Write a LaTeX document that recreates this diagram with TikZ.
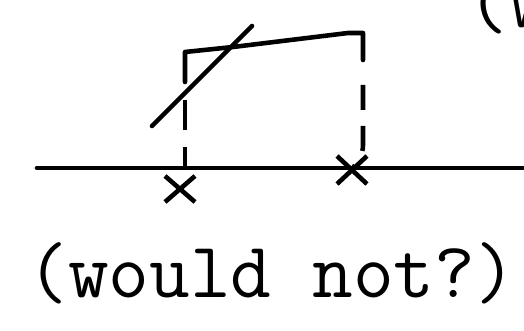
\documentclass[tikz,border=0pt]{standalone}
\usepackage{fontspec}
\usetikzlibrary{positioning,calc}

\begin{document}
\begin{tikzpicture}[x=0.02cm,y=-0.02cm,
    ln/.style={line width=2.6pt,line cap=round,line join=round},
    dsh/.style={line width=2.6pt,dash pattern=on 0.6cm off 0.34cm},
    xm/.style={line width=2.6pt},
    lbl/.style={font=\fontsize{45}{48}\selectfont\ttfamily,inner sep=0pt}
  ]
  \useasboundingbox (0,0) rectangle (524,331);
  % axis and the two marks
  \coordinate (ax0) at (37,168);
  \coordinate (ax1) at (530,168);
  \coordinate (p) at (180,189);
  \coordinate (q) at (352,170);
  \draw[ln] (ax0) -- (ax1);
  \draw[xm] ($(p)+(-15,-13)$) -- ($(p)+(15,13)$) ($(p)+(15,-13)$) -- ($(p)+(-15,13)$);
  \draw[xm] ($(q)+(-15,-14)$) -- ($(q)+(15,14)$) ($(q)+(15,-14)$) -- ($(q)+(-15,14)$);
  % the bent top and its sides
  \coordinate (a) at (185,82);
  \coordinate (b) at (185,52);
  \coordinate (c) at (233,47);
  \coordinate (d) at (348,33);
  \coordinate (e) at (363,33);
  \coordinate (f) at (363,60);
  \draw[ln] (a) -- (b) -- (c) -- (d) -- (e) -- (f);
  \draw[dsh] (185,100) -- (185,167);
  \draw[dsh,dash pattern=on 0.5cm off 0.32cm] (363,85) -- (363,145) to[out=-90,in=60] (q);
  % the slanted stroke
  \coordinate (s0) at (152,126);
  \coordinate (s1) at (252,26);
  \draw[ln] (s0) -- (s1);
  % texts
  \node[lbl,anchor=base west] (cap) at (27,297) {(would not?)};
  \node[lbl,anchor=base west] (top) at (467,28) {(w};
\end{tikzpicture}
\end{document}
